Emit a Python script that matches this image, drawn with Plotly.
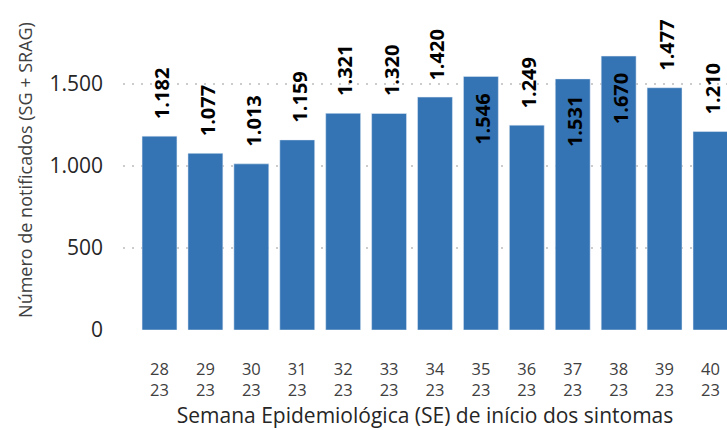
import plotly.graph_objects as go

semanas = ["28<br>23", "29<br>23", "30<br>23", "31<br>23", "32<br>23", "33<br>23", "34<br>23",
           "35<br>23", "36<br>23", "37<br>23", "38<br>23", "39<br>23", "40<br>23"]
notificados = [1182, 1077, 1013, 1159, 1321, 1320, 1420, 1546, 1249, 1531, 1670, 1477, 1210]
rotulo_dentro = [False, False, False, False, False, False, False, True, False, True, True, False, False]

BAR_COLOR = "#3474B4"
FONT = "Open Sans"

def fmt(v):
    return f"{v:,}".replace(",", ".")

fig = go.Figure()
fig.add_trace(go.Bar(
    x=semanas, y=notificados, marker_color=BAR_COLOR, width=0.76,
    hoverinfo="x+y",
))

for s, v, inside in zip(semanas, notificados, rotulo_dentro):
    fig.add_annotation(
        x=s, y=v, text=f"<b>{fmt(v)}</b>", textangle=-90, showarrow=False,
        yanchor="top" if inside else "bottom",
        yshift=-15 if inside else 15, xshift=2,
        font=dict(family=FONT, size=20, color="black"),
    )

fig.update_layout(
    width=727, height=430,
    margin=dict(l=123, r=0, t=10, b=100),
    paper_bgcolor="white", plot_bgcolor="white",
    separators=",.",
    showlegend=False,
    font=dict(family=FONT, color="#262626"),
    xaxis=dict(
        range=[-0.795, 12.36], showgrid=False, showline=False, ticks="",
        tickfont=dict(family=FONT, size=16.5, color="#404040"),
        ticklabelstandoff=27,
        title=dict(text="Semana Epidemiológica (SE) de início dos sintomas",
                   font=dict(family=FONT, size=21, color="#262626"), standoff=5),
    ),
    yaxis=dict(
        range=[0, 1951], tickvals=[0, 500, 1000, 1500], tickformat=",d",
        showgrid=True, gridcolor="#cccccc", gridwidth=2, griddash="2px,7px",
        zeroline=False, showline=False, ticks="",
        tickfont=dict(family=FONT, size=21, color="#262626"),
        ticklabelstandoff=19,
        title=dict(text="Número de notificados (SG + SRAG)",
                   font=dict(family=FONT, size=18, color="#404040"), standoff=12),
    ),
)

fig.write_html("out.html", post_script="document.body.style.margin='0';",
               config={"displayModeBar": False})
